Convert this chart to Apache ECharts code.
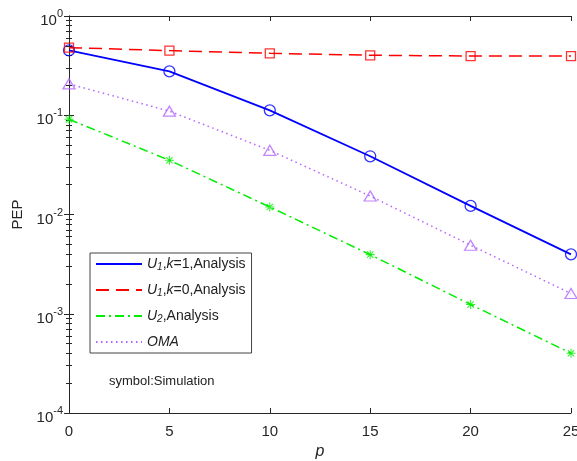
<!DOCTYPE html>
<html><head><meta charset="utf-8">
<script src="https://cdn.jsdelivr.net/npm/echarts@6/dist/echarts.min.js"></script>
<style>html,body{margin:0;padding:0;background:#fff}#c{width:577px;height:461px}</style>
</head><body><div id="c"></div>
<script>
// ---- data ----
const pValues = [0, 5, 10, 15, 20, 25];
const u1k1Analysis = [0.451, 0.277, 0.112, 0.0386, 0.0122, 0.00397];
const u1k0Analysis = [0.480, 0.448, 0.421, 0.402, 0.395, 0.395];
const u2Analysis   = [0.091, 0.0352, 0.0119, 0.00394, 0.00124, 0.000400];
const omaAnalysis  = [0.207, 0.110, 0.0443, 0.01535, 0.0049, 0.0016];
const u1k1Sim = [0.451, 0.277, 0.112, 0.0386, 0.0122, 0.00397];
const u1k0Sim = [0.480, 0.448, 0.421, 0.402, 0.395, 0.395];
const u2Sim   = [0.091, 0.0352, 0.0119, 0.00394, 0.00124, 0.000400];
const omaSim  = [0.207, 0.110, 0.0443, 0.01535, 0.0049, 0.0016];
const xTicks = [0, 5, 10, 15, 20, 25];
const legendNames = ['U1,k=1,Analysis', 'U1,k=0,Analysis', 'U2,Analysis', 'OMA'];
const noteText = 'symbol:Simulation';

// ---- build ----
const zip = (xs, ys) => xs.map((x, i) => [x, ys[i]]);

const asterisk = 'path://M0 8.8L20 8.8L20 11.2L0 11.2Z M8.8 0L11.2 0L11.2 20L8.8 20Z ' +
  'M3.78 2.08L17.92 16.22L16.22 17.92L2.08 3.78Z M2.08 16.22L16.22 2.08L17.92 3.78L3.78 17.92Z';

const axisColor = '#262626';
const labelFont = 'Liberation Sans, Arial, Helvetica, sans-serif';

const legendFmt = {
  'U1,k=1,Analysis': '{i|U}{s|1}{n|,}{i|k}{n|=1,Analysis}',
  'U1,k=0,Analysis': '{i|U}{s|1}{n|,}{i|k}{n|=0,Analysis}',
  'U2,Analysis': '{i|U}{s|2}{n|,Analysis}',
  'OMA': '{i|OMA}'
};

const minorTickCfg = {show: true, splitNumber: 9, length: 3, inside: true, lineStyle: {color: axisColor, width: 1}};

const chart = echarts.init(document.getElementById('c'), null, {renderer: 'canvas'});
const option = {
  animation: false,
  backgroundColor: '#fff',
  textStyle: {fontFamily: labelFont},
  grid: {left: 69, right: 6, top: 16, bottom: 48, containLabel: false, outerBoundsMode: 'none'},
  xAxis: [{
    type: 'value', min: 0, max: 25, interval: 5,
    name: 'p', nameLocation: 'middle', nameGap: 23,
    nameTextStyle: {fontStyle: 'italic', fontSize: 16, color: axisColor, fontFamily: labelFont},
    axisLine: {lineStyle: {color: axisColor, width: 1}},
    axisTick: {inside: true, length: 5, lineStyle: {color: axisColor}},
    axisLabel: {fontSize: 15, color: axisColor, margin: 11, fontFamily: labelFont},
    splitLine: {show: false}
  }, {
    type: 'value', position: 'top', min: 0, max: 25, interval: 5,
    axisLine: {show: true, lineStyle: {color: axisColor, width: 1}},
    axisTick: {inside: true, length: 5, lineStyle: {color: axisColor}},
    axisLabel: {show: false}, splitLine: {show: false}
  }],
  yAxis: [{
    type: 'log', logBase: 10, min: 1e-4, max: 1, interval: 1,
    name: 'PEP', nameLocation: 'middle', nameGap: 40, nameRotate: 90,
    nameTextStyle: {fontSize: 15, color: axisColor, fontFamily: labelFont},
    axisLine: {show: true, lineStyle: {color: axisColor, width: 1}},
    axisTick: {inside: true, length: 5, lineStyle: {color: axisColor}},
    minorTick: minorTickCfg,
    axisLabel: {
      margin: 6, color: axisColor,
      formatter: v => '{b|10}{s|' + Math.round(Math.log10(v)) + '}',
      rich: {
        b: {fontSize: 15, fontFamily: labelFont, color: axisColor, padding: [10, 0, 0, 0]},
        s: {fontSize: 11, fontFamily: labelFont, color: axisColor, padding: [0, 0, 4, 0]}
      }
    },
    splitLine: {show: false}
  }, {
    type: 'log', logBase: 10, min: 1e-4, max: 1, interval: 1, position: 'right',
    axisLine: {show: true, lineStyle: {color: axisColor, width: 1}},
    axisTick: {inside: true, length: 5, lineStyle: {color: axisColor}},
    minorTick: minorTickCfg,
    axisLabel: {show: false}, splitLine: {show: false}
  }],
  legend: {
    orient: 'vertical', left: 90, top: 253,
    itemWidth: 46, itemHeight: 14, itemGap: 11,
    padding: [4, 6, 4, 5],
    borderColor: '#444', borderWidth: 1, backgroundColor: '#fff',
    itemStyle: {opacity: 0},
    data: legendNames,
    formatter: name => legendFmt[name],
    textStyle: {
      fontSize: 14, color: '#222', fontFamily: labelFont,
      rich: {
        i: {fontSize: 14, fontStyle: 'italic', color: '#222', fontFamily: labelFont},
        n: {fontSize: 14, color: '#222', fontFamily: labelFont},
        s: {fontSize: 10, color: '#222', fontStyle: 'italic', fontFamily: labelFont, padding: [6, 0, 0, 0]}
      }
    }
  },
  graphic: [{
    type: 'text', left: 109, top: 375,
    style: {text: noteText, fontSize: 13, fill: '#222', fontFamily: labelFont}
  }],
  series: [
    {name: 'U1,k=1,Analysis', type: 'line', data: zip(pValues, u1k1Analysis), symbol: 'none',
     lineStyle: {color: '#0000ff', width: 1.8, type: 'solid'}, itemStyle: {color: '#0000ff'}, z: 3},
    {name: 'U1,k=0,Analysis', type: 'line', data: zip(pValues, u1k0Analysis), symbol: 'none',
     lineStyle: {color: '#ff0000', width: 1.5, type: [13, 7]}, itemStyle: {color: '#ff0000'}, z: 3},
    {name: 'U2,Analysis', type: 'line', data: zip(pValues, u2Analysis), symbol: 'none',
     lineStyle: {color: '#00ee00', width: 1.5, type: [9, 4, 2, 4]}, itemStyle: {color: '#00ee00'}, z: 3},
    {name: 'OMA', type: 'line', data: zip(pValues, omaAnalysis), symbol: 'none',
     lineStyle: {color: '#b366ff', width: 1.5, type: [1.5, 3.5]}, itemStyle: {color: '#b366ff'}, z: 3},
    {name: 'simU1k1', type: 'scatter', data: zip(pValues, u1k1Sim), symbol: 'circle', symbolSize: 11,
     itemStyle: {color: 'rgba(0,0,0,0)', borderColor: '#0000ff', borderWidth: 1.3}, z: 4},
    {name: 'simU1k0', type: 'scatter', data: zip(pValues, u1k0Sim), symbol: 'rect', symbolSize: 9,
     itemStyle: {color: 'rgba(0,0,0,0)', borderColor: '#ff0000', borderWidth: 1.3}, z: 4},
    {name: 'simU2', type: 'scatter', data: zip(pValues, u2Sim), symbol: asterisk, symbolSize: 9,
     itemStyle: {color: '#00ee00'}, z: 4},
    {name: 'simOMA', type: 'scatter', data: zip(pValues, omaSim), symbol: 'triangle', symbolSize: [12, 10],
     itemStyle: {color: 'rgba(0,0,0,0)', borderColor: '#b366ff', borderWidth: 1.3}, z: 4}
  ]
};
chart.setOption(option);
</script></body></html>
